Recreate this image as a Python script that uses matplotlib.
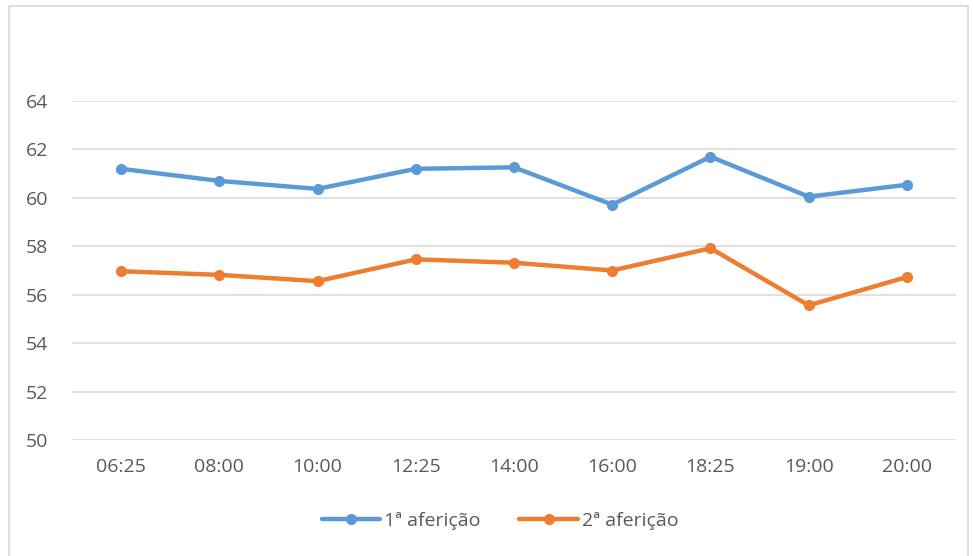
import matplotlib.pyplot as plt
from matplotlib.patches import Rectangle

horarios = ['06:25', '08:00', '10:00', '12:25', '14:00', '16:00', '18:25', '19:00', '20:00']
afericao_1 = [61.2, 60.7, 60.37, 61.2, 61.26, 59.72, 61.7, 60.05, 60.54]
afericao_2 = [56.97, 56.82, 56.56, 57.46, 57.32, 57.0, 57.92, 55.56, 56.73]
y_ticks = [50, 52, 54, 56, 58, 60, 62, 64]

W, H = 973, 556
fig = plt.figure(figsize=(W / 100, H / 100), dpi=100)
plt.rcParams['font.family'] = ['Open Sans', 'DejaVu Sans']

# chart area border
fig.patches.append(Rectangle((9 / W, -0.01), 959 / W, 1 - 6 / H + 0.01,
                             transform=fig.transFigure, fill=False,
                             edgecolor='#d9d9d9', linewidth=1.2))

ax = fig.add_axes([72 / W, 1 - 440 / H, (956 - 72) / W, (440 - 101) / H])
x = range(len(horarios))
ax.plot(x, afericao_1, color='#5B9BD5', linewidth=3.2, marker='o', markersize=7,
        label='1ª aferição', solid_capstyle='round')
ax.plot(x, afericao_2, color='#ED7D31', linewidth=3.2, marker='o', markersize=7,
        label='2ª aferição', solid_capstyle='round')

ax.set_xlim(-0.5, len(horarios) - 0.5)
ax.set_ylim(50, 64)
ax.set_yticks(y_ticks)
ax.set_xticks(list(x))
ax.set_xticklabels(horarios)
ax.grid(axis='y', color='#d9d9d9', linewidth=1.1)
ax.set_axisbelow(True)
for s in ax.spines.values():
    s.set_visible(False)
ax.tick_params(length=0, labelsize=14, labelcolor='#595959')
ax.tick_params(axis='y', pad=17)
ax.tick_params(axis='x', pad=13)

leg = fig.legend(loc='center', bbox_to_anchor=(500 / W, 1 - 521 / H), ncol=2,
                 frameon=False, fontsize=14, handlelength=3, columnspacing=2.0,
                 handletextpad=0.2)
for t in leg.get_texts():
    t.set_color('#595959')

fig.savefig('out.png', dpi=100)
